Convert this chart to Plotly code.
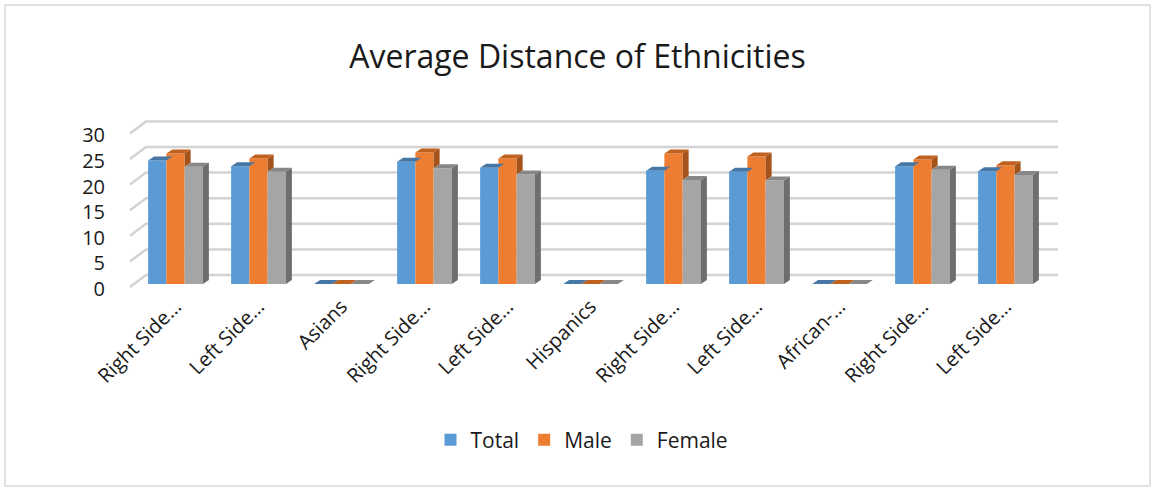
import plotly.graph_objects as go

categories = ["Right Side…", "Left Side…", "Asians", "Right Side…", "Left Side…", "Hispanics",
              "Right Side…", "Left Side…", "African-…", "Right Side…", "Left Side…"]
total = [24.1, 23.0, 0, 23.9, 22.7, 0, 22.1, 21.9, 0, 23.0, 22.0]
male = [25.5, 24.5, 0, 25.7, 24.5, 0, 25.5, 24.9, 0, 24.3, 23.2]
female = [22.9, 21.9, 0, 22.6, 21.4, 0, 20.3, 20.2, 0, 22.3, 21.3]
series_names = ["Total", "Male", "Female"]
y_ticks = [0, 5, 10, 15, 20, 25, 30]

front_colors = ["#5b9bd5", "#ed7d31", "#a5a5a5"]
top_colors = ["#4677a6", "#c1611f", "#878787"]
side_colors = ["#3d6a94", "#a4531b", "#6e6e6e"]

W, H = 1155, 491
L, R, T, B = 120, 1070, 110, 290
px_x = 83.0          # pixels per category
x0_px = 175.5        # pixel of category 0
px_y = 5.12          # pixels per value unit
y0_px = 284.0        # pixel of value 0

xr = [(L - x0_px) / px_x, (R - x0_px) / px_x]
yr = [(y0_px - B) / px_y, (y0_px - T) / px_y]

bw = 0.22
offsets = [-0.33, -0.11, 0.11]
dx = 6 / px_x
dy = 4 / px_y

fig = go.Figure()
data = [total, male, female]
idx = list(range(len(categories)))
for s in range(3):
    fig.add_trace(go.Bar(x=idx, y=data[s], name=series_names[s], width=bw, offset=offsets[s],
                         marker=dict(color=front_colors[s], line=dict(width=0))))

shapes = []
# back-wall gridlines (decoration)
def px2x(p):
    return (p - x0_px) / px_x
for v in y_ticks:
    yf = v - 3 / px_y
    yb = v + 9 / px_y
    shapes.append(dict(type="path", xref="x", yref="y", layer="below",
                       path=f"M {px2x(130)},{yf} L {px2x(146)},{yb} L {px2x(1058)},{yb}",
                       line=dict(color="#d3d3d3", width=2.5)))

# 3D tops and sides
for i in idx:
    for s in range(3):
        v = data[s][i]
        xl = i + offsets[s]
        xrr = xl + bw
        shapes.append(dict(type="path", xref="x", yref="y", layer="above",
                           path=f"M {xl},{v} L {xrr},{v} L {xrr+dx},{v+dy} L {xl+dx},{v+dy} Z",
                           fillcolor=top_colors[s], line=dict(width=0)))
        vn = data[s + 1][i] if s < 2 else 0
        if v > vn:
            shapes.append(dict(type="path", xref="x", yref="y", layer="above",
                               path=f"M {xrr},{vn} L {xrr},{v} L {xrr+dx},{v+dy} L {xrr+dx},{vn+dy} Z",
                               fillcolor=side_colors[s], line=dict(width=0)))

# chart border
pw, ph = R - L, B - T
shapes.append(dict(type="rect", xref="paper", yref="paper",
                   x0=(5 - L) / pw, x1=(1150 - L) / pw, y0=(B - 486) / ph, y1=(B - 5) / ph,
                   line=dict(color="#d9d9d9", width=1.5), fillcolor="rgba(0,0,0,0)", layer="below"))

font_family = "Open Sans"
fig.update_layout(
    width=W, height=H,
    margin=dict(l=L, r=W - R, t=T, b=H - B, pad=0),
    paper_bgcolor="white", plot_bgcolor="white",
    shapes=shapes,
    barmode="overlay",
    title=dict(text="Average Distance of Ethnicities", x=0.5, xref="container", xanchor="center",
               y=1 - 57 / H, yref="container", yanchor="middle",
               font=dict(family=font_family, size=32, color="#1a1a1a")),
    xaxis=dict(range=xr, tickmode="array", tickvals=idx, ticktext=categories, tickangle=-45,
               showgrid=False, zeroline=False, showline=False, ticks="",
               tickfont=dict(family=font_family, size=20, color="#1a1a1a")),
    yaxis=dict(range=yr, tickmode="array", tickvals=y_ticks, showgrid=False, zeroline=False,
               showline=False, ticks="outside", ticklen=10, tickcolor="rgba(0,0,0,0)",
               ticklabelshift=5,
               tickfont=dict(family=font_family, size=20, color="#1a1a1a")),
    legend=dict(orientation="h", x=(582 - L) / pw, xanchor="center", y=(B - 440) / ph, yanchor="middle",
                font=dict(family=font_family, size=21, color="#1a1a1a"), itemwidth=30,
                bgcolor="rgba(0,0,0,0)"),
    showlegend=True,
)

fig.write_html("out.html")
